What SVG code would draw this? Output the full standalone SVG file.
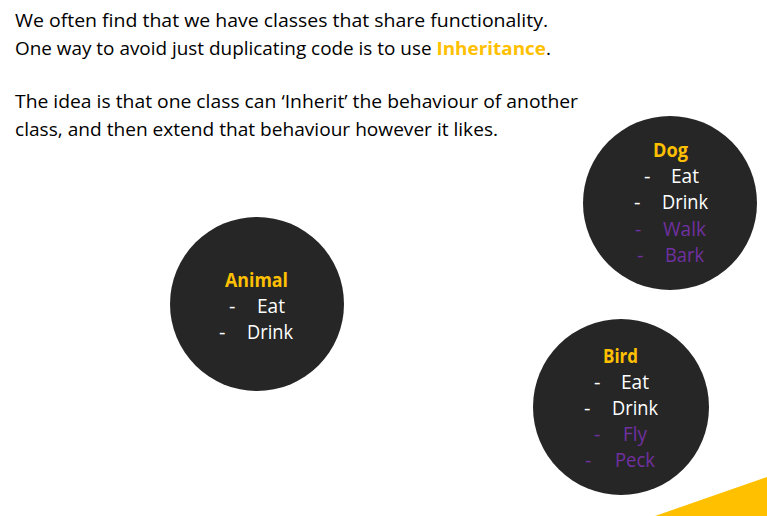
<svg xmlns="http://www.w3.org/2000/svg" width="767" height="516" viewBox="0 0 767 516">
  <style>
    .intro { font-family: "Open Sans", "Liberation Sans", sans-serif; font-size: 18.5px; fill: #000000; }
    .accent { fill: #FFC000; font-weight: bold; }
    .node { fill: #262626; }
    .title { font-family: "Open Sans", "Liberation Sans", sans-serif; font-size: 19px; font-weight: bold; fill: #FFC000; text-anchor: middle; }
    .item { font-family: "Open Sans", "Liberation Sans", sans-serif; font-size: 20px; fill: #FFFFFF; }
    .extra { fill: #7030A0; }
  </style>

  <rect width="767" height="516" fill="#FFFFFF"/>

  <!-- Introductory text -->
  <g id="intro">
    <text class="intro" x="15" y="27" textLength="533" lengthAdjust="spacingAndGlyphs">We often find that we have classes that share functionality.</text>
    <text class="intro" x="15" y="55" textLength="536" lengthAdjust="spacingAndGlyphs">One way to avoid just duplicating code is to use <tspan class="accent">Inheritance</tspan>.</text>
    <text class="intro" x="15" y="108" textLength="563" lengthAdjust="spacingAndGlyphs">The idea is that one class can ‘Inherit’ the behaviour of another</text>
    <text class="intro" x="15" y="136" textLength="483" lengthAdjust="spacingAndGlyphs">class, and then extend that behaviour however it likes.</text>
  </g>

  <!-- Base class -->
  <g id="animal">
    <circle class="node" cx="257" cy="304" r="87"/>
    <text class="title" x="256.5" y="287" textLength="63" lengthAdjust="spacingAndGlyphs">Animal</text>
    <text class="item" x="229" y="313">-</text>
    <text class="item" x="257" y="313" textLength="28" lengthAdjust="spacingAndGlyphs">Eat</text>
    <text class="item" x="219" y="339">-</text>
    <text class="item" x="247" y="339" textLength="46" lengthAdjust="spacingAndGlyphs">Drink</text>
  </g>

  <!-- Derived class: Dog -->
  <g id="dog">
    <circle class="node" cx="670" cy="203" r="87"/>
    <text class="title" x="670.5" y="157" textLength="35" lengthAdjust="spacingAndGlyphs">Dog</text>
    <text class="item" x="644" y="183">-</text>
    <text class="item" x="671" y="183" textLength="28" lengthAdjust="spacingAndGlyphs">Eat</text>
    <text class="item" x="634" y="209">-</text>
    <text class="item" x="662" y="209" textLength="46" lengthAdjust="spacingAndGlyphs">Drink</text>
    <text class="item extra" x="635" y="236">-</text>
    <text class="item extra" x="663" y="236" textLength="43" lengthAdjust="spacingAndGlyphs">Walk</text>
    <text class="item extra" x="637" y="262">-</text>
    <text class="item extra" x="665" y="262" textLength="39" lengthAdjust="spacingAndGlyphs">Bark</text>
  </g>

  <!-- Derived class: Bird -->
  <g id="bird">
    <circle class="node" cx="621" cy="407" r="88"/>
    <text class="title" x="620.5" y="363" textLength="35" lengthAdjust="spacingAndGlyphs">Bird</text>
    <text class="item" x="594" y="389">-</text>
    <text class="item" x="621" y="389" textLength="28" lengthAdjust="spacingAndGlyphs">Eat</text>
    <text class="item" x="584" y="415">-</text>
    <text class="item" x="612" y="415" textLength="46" lengthAdjust="spacingAndGlyphs">Drink</text>
    <text class="item extra" x="594" y="441">-</text>
    <text class="item extra" x="623" y="441" textLength="24" lengthAdjust="spacingAndGlyphs">Fly</text>
    <text class="item extra" x="585" y="467">-</text>
    <text class="item extra" x="615" y="467" textLength="40" lengthAdjust="spacingAndGlyphs">Peck</text>
  </g>

  <g id="connectors"/>

  <!-- Corner accent -->
  <polygon points="655,516 767,477 767,516" fill="#FFC000"/>
</svg>
